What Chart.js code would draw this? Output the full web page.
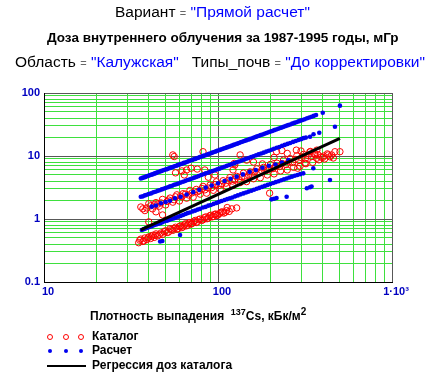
<!DOCTYPE html>
<html>
<head>
<meta charset="utf-8">
<script src="https://cdn.jsdelivr.net/npm/chart.js@4.4.1/dist/chart.umd.min.js"></script>
<style>
  body { margin: 0; background: #fff; }
  #wrap { position: relative; width: 437px; height: 382px; font-family: "Liberation Sans", Arial, sans-serif; }
  #wrap canvas { position: absolute; left: 0; top: 0; }
  .t { position: absolute; white-space: nowrap; color: #000; }
  .s { color: #0000ff; }
  .eq { color: #666; font-size: 11px; }
  .lg { position: absolute; font-size: 12px; line-height: 12px; font-weight: bold; white-space: nowrap; }
  .mk { position: absolute; border-radius: 50%; }
  .ring { width: 4px; height: 4px; border: 1px solid #f00; }
  .dot { width: 4px; height: 4px; background: #0000f0; }
</style>
</head>
<body>
<div id="wrap">
  <canvas id="chart" width="437" height="382"></canvas>

  <div class="t" style="left:115px;top:4px;font-size:15.5px;line-height:15.5px;">Вариант <span class="eq">=</span> <span class="s">"Прямой расчет"</span></div>
  <div class="t" style="left:47px;top:31px;font-size:13.5px;line-height:13.5px;font-weight:bold;">Доза внутреннего облучения за 1987-1995 годы, мГр</div>
  <div class="t" style="left:15px;top:54px;font-size:15.5px;line-height:15.5px;">Область <span class="eq">=</span> <span class="s">"Калужская"</span>&nbsp;&nbsp; Типы_почв <span class="eq">=</span> <span class="s">"До корректировки"</span></div>

  <div class="lg" style="left:90px;top:310px;">Плотность выпадения &nbsp;<sup style="font-size:9px;line-height:0;">137</sup>Cs, кБк/м<sup style="font-size:10px;line-height:0;">2</sup></div>

  <div class="mk ring" style="left:47px;top:334px;"></div>
  <div class="mk ring" style="left:63px;top:334px;"></div>
  <div class="mk ring" style="left:78px;top:334px;"></div>
  <div class="lg" style="left:92px;top:330px;">Каталог</div>

  <div class="mk dot" style="left:48px;top:349px;"></div>
  <div class="mk dot" style="left:64px;top:349px;"></div>
  <div class="mk dot" style="left:79px;top:349px;"></div>
  <div class="lg" style="left:92px;top:344px;">Расчет</div>

  <div style="position:absolute;left:47px;top:365px;width:39px;height:2px;background:#000;"></div>
  <div class="lg" style="left:92px;top:359px;">Регрессия доз каталога</div>
</div>

<script>
// Axis ticks (log grid, labels only on decades)
const xTicks = [10, 20, 30, 40, 50, 60, 70, 80, 90, 100, 200, 300, 400, 500, 600, 700, 800, 900, 1000];
const yTicks = [0.1, 0.2, 0.3, 0.4, 0.5, 0.6, 0.7, 0.8, 0.9, 1, 2, 3, 4, 5, 6, 7, 8, 9, 10, 20, 30, 40, 50, 60, 70, 80, 90, 100];
const xMajor = [10, 100, 1000];
const xMajorLabels = ['10', '100', '1·10³'];
const yMajor = [0.1, 1, 10, 100];
const yMajorLabels = ['0.1', '1', '10', '100'];

// Каталог (red open circles): deposition density, dose
const catX = [
  35, 36, 37, 38, 39, 40, 41, 42, 43, 44, 45, 47, 48, 50, 52, 53, 55, 57, 59, 61, 63, 65, 67, 69, 71, 74, 76, 79, 82, 85, 88, 91, 94, 97, 100, 104, 108, 112, 116, 120, 128, 113,
  35.5, 37.5, 39.5, 41.5, 43.5, 46, 49, 51, 54, 56, 58, 60, 62, 64, 66, 68, 70, 72.5, 75, 77.5, 80.5, 83.5, 86.5, 89.5, 92.5, 95.5, 98.5, 102, 106, 110,
  36, 40, 44, 48, 53, 58, 63, 69, 75, 82, 90, 98, 107, 117, 128, 140, 153, 167, 183, 200, 218, 238, 260, 284, 310, 340, 370,
  38, 42, 46, 50, 55, 60, 66, 72, 79, 86, 94, 103, 112, 122, 134, 146, 160, 175, 192, 210, 229, 250, 272, 296, 320, 350, 380, 410, 440,
  37, 41, 45, 51, 56, 62, 68, 76, 84, 92, 101, 111, 121, 131, 143, 157, 172, 189, 207, 226, 246, 268, 292, 318, 345, 375, 405, 450,
  39, 43, 47, 52, 57, 61, 65, 71, 78, 81, 88, 96, 105, 115, 125, 137, 150, 163, 178, 195, 214, 234, 255, 278, 302, 330, 360, 390, 425,
  55, 56, 82, 57, 62, 66, 70, 76, 84, 64, 96, 88, 134, 146, 124, 160, 233, 282, 337, 360, 400, 430, 460, 502, 470, 198, 300, 250, 210, 180, 40, 48, 44, 122, 125, 217, 287, 316, 369
];
const catY = [
  0.42, 0.48, 0.44, 0.50, 0.47, 0.52, 0.49, 0.55, 0.51, 0.58, 0.54, 0.60, 0.57, 0.65, 0.62, 0.70, 0.66, 0.74, 0.70, 0.78, 0.75, 0.84, 0.80, 0.88, 0.85, 0.95, 0.90, 1.0, 0.97, 1.08, 1.04, 1.15, 1.1, 1.2, 1.16, 1.28, 1.24, 1.36, 1.32, 1.45, 1.5, 1.52,
  0.46, 0.45, 0.5, 0.53, 0.55, 0.56, 0.63, 0.61, 0.68, 0.71, 0.69, 0.76, 0.73, 0.8, 0.78, 0.86, 0.83, 0.92, 0.88, 0.98, 0.95, 1.05, 1.01, 1.12, 1.08, 1.18, 1.14, 1.22, 1.3, 1.28,
  1.55, 1.75, 1.82, 2.05, 2.15, 2.42, 2.52, 2.85, 2.95, 3.3, 3.45, 3.9, 4.05, 4.55, 4.75, 5.35, 5.6, 6.25, 6.6, 7.35, 7.7, 8.6, 9.1, 10.1, 10.6, 11.8, 12.4,
  1.36, 1.45, 1.6, 1.67, 1.85, 1.93, 2.14, 2.22, 2.48, 2.57, 2.85, 2.96, 3.27, 3.4, 3.78, 3.92, 4.35, 4.52, 5.0, 5.2, 5.8, 6.0, 6.6, 6.9, 7.55, 7.9, 8.7, 9.0, 9.7,
  1.45, 1.62, 1.72, 1.9, 2.02, 2.25, 2.4, 2.7, 2.9, 3.15, 3.4, 3.7, 4.0, 4.25, 4.6, 4.95, 5.4, 5.85, 6.3, 6.8, 7.3, 7.9, 8.5, 9.1, 9.8, 10.5, 10.0, 10.4,
  1.5, 1.68, 1.8, 2.0, 2.25, 2.3, 2.48, 2.6, 2.8, 3.05, 3.1, 3.5, 3.6, 4.1, 4.3, 4.7, 5.0, 5.7, 5.9, 6.4, 6.9, 7.6, 8.1, 8.8, 9.4, 10.2, 11.0, 9.6, 10.8,
  10.4, 9.8, 11.7, 5.4, 5.8, 6.0, 6.4, 6.2, 6.0, 5.0, 5.0, 4.6, 10.4, 8.6, 7.6, 8.0, 12.2, 12.4, 11.6, 10.5, 9.5, 10.4, 9.3, 11.7, 11.7, 2.57, 12.0, 11.0, 9.5, 7.5, 0.9, 1.16, 1.3, 6.0, 7.2, 11.7, 6.4, 7.7, 9.2
];

// Расчет (blue dots)
const calcX = [
  36, 37.5, 39, 40.5, 42, 43.5, 45, 47, 49, 51, 53, 55, 57.5, 60, 62.5, 65, 68, 71, 74, 77, 80.5, 84, 88, 92, 96, 100, 105, 110, 115, 120, 126, 132, 138, 145, 152, 160, 168, 176, 185, 195, 205, 216, 228, 240, 253, 267, 282, 298, 315, 345, 366, 400,
  36.8, 38.2, 39.8, 41.2, 42.8, 44.2, 46, 48, 50, 52, 54, 56.2, 58.7, 61.2, 63.7, 66.5, 69.5, 72.5, 75.5, 78.7, 82.2, 86, 90, 94, 98, 102.5, 107.5, 112.5, 117.5, 123, 129, 135, 141.5, 148.5, 156, 164, 172, 180.5, 190, 200, 210.5, 222, 234, 246.5, 260, 274.5, 290, 306, 325, 335, 355,
  36, 38, 40, 42.5, 45, 47.5, 50, 53, 56, 59, 63, 67, 71, 75, 80, 85, 90, 96, 102, 109, 116, 124, 132, 141, 150, 160, 171, 183, 196, 210, 225, 242, 260, 280, 300, 320, 338, 354, 382,
  37, 39, 41.2, 43.7, 46.2, 48.7, 51.5, 54.5, 57.5, 61, 65, 69, 73, 77.5, 82.5, 87.5, 93, 99, 105.5, 112.5, 120, 128, 136.5, 145.5, 155, 165.5, 177, 189.5, 203, 217.5, 233.5, 251, 270, 290, 310,
  41.6, 44, 47, 50, 53, 56.6, 61, 66, 72, 78, 85, 92, 100, 109, 118, 128, 139, 152, 165, 180, 196, 214, 233, 254,
  36.5, 38.5, 40.5, 43, 45.5, 48, 51, 54, 57, 61, 65, 69, 74, 79, 85, 91, 98, 105, 113, 121, 130, 140, 150, 161, 173, 186, 200, 215, 231, 248, 266, 286, 309,
  37.5, 39.5, 41.7, 44.2, 46.7, 49.5, 52.5, 55.5, 59, 63, 67, 71.5, 76.5, 82, 88, 94.5, 101.5, 109, 117, 125.5, 135, 145, 155.5, 167, 179.5, 193, 207.5, 223, 239.5, 257, 276, 297,
  47.9, 60.5, 46.5, 203, 210, 217, 248, 324, 338, 345, 440, 353, 470, 502
];
const calcY = [
  4.4, 4.55, 4.75, 4.95, 5.1, 5.3, 5.5, 5.75, 6.0, 6.2, 6.45, 6.7, 7.0, 7.3, 7.6, 7.9, 8.3, 8.65, 9.0, 9.4, 9.8, 10.2, 10.7, 11.2, 11.7, 12.2, 12.8, 13.4, 14.0, 14.6, 15.4, 16.1, 16.8, 17.7, 18.5, 19.5, 20.5, 21.5, 22.6, 23.8, 25, 26.4, 27.8, 29.3, 30.9, 32.6, 34.4, 36.4, 38.4, 42, 44.8, 48.7,
  4.49, 4.66, 4.86, 5.03, 5.22, 5.39, 5.61, 5.86, 6.1, 6.34, 6.59, 6.86, 7.16, 7.47, 7.77, 8.11, 8.48, 8.85, 9.21, 9.6, 10.03, 10.49, 10.98, 11.47, 11.96, 12.5, 13.1, 13.7, 14.3, 15.0, 15.7, 16.5, 17.3, 18.1, 19.0, 20.0, 21.0, 22.0, 23.2, 24.4, 25.7, 27.1, 28.5, 30.1, 31.7, 33.5, 35.4, 37.3, 39.7, 40.9, 43.3,
  2.25, 2.37, 2.5, 2.65, 2.8, 2.95, 3.1, 3.3, 3.5, 3.65, 3.9, 4.15, 4.4, 4.65, 5.0, 5.3, 5.6, 5.95, 6.3, 6.75, 7.2, 7.7, 8.2, 8.75, 9.3, 9.9, 10.6, 11.3, 12.1, 13.0, 13.9, 15.0, 16.1, 17.3, 18.5, 19.6, 20.2, 22.1, 23.4,
  2.29, 2.42, 2.55, 2.71, 2.86, 3.02, 3.19, 3.38, 3.57, 3.78, 4.03, 4.28, 4.53, 4.8, 5.12, 5.43, 5.77, 6.14, 6.54, 6.98, 7.44, 7.94, 8.46, 9.02, 9.61, 10.26, 10.97, 11.75, 12.59, 13.49, 14.48, 15.56, 16.74, 17.98, 19.2,
  1.57, 1.64, 1.78, 1.86, 1.95, 2.13, 2.25, 2.45, 2.67, 2.9, 3.15, 3.4, 3.7, 4.0, 4.35, 4.7, 5.1, 5.6, 6.0, 6.5, 7.0, 7.3, 7.9, 8.6,
  0.67, 0.71, 0.75, 0.8, 0.84, 0.89, 0.94, 1.0, 1.05, 1.12, 1.2, 1.27, 1.36, 1.45, 1.56, 1.67, 1.8, 1.93, 2.07, 2.2, 2.37, 2.55, 2.72, 2.92, 3.12, 3.35, 3.6, 3.85, 4.12, 4.4, 4.7, 5.0, 5.3,
  0.69, 0.73, 0.77, 0.82, 0.86, 0.92, 0.97, 1.02, 1.09, 1.16, 1.24, 1.32, 1.41, 1.52, 1.63, 1.74, 1.87, 2.0, 2.14, 2.29, 2.46, 2.63, 2.81, 3.02, 3.24, 3.48, 3.72, 3.98, 4.26, 4.55, 4.85, 5.15,
  0.448, 0.557, 0.44, 2.05, 2.1, 2.15, 2.26, 3.07, 3.2, 3.28, 4.16, 6.38, 29.2, 63
];

// Регрессия доз каталога
const regX = [36, 502];
const regY = [0.67, 19];

const toPoints = (xs, ys) => xs.map((x, i) => ({ x: x, y: ys[i] }));

const isDecade = v => Math.abs(Math.log10(v) - Math.round(Math.log10(v))) < 1e-6;
const gridColor = ctx => (ctx.tick && isDecade(ctx.tick.value)) ? '#585858' : '#3ee03e';
const tickFont = { family: '"Liberation Sans", Arial, sans-serif', size: 11, weight: 'bold' };

new Chart(document.getElementById('chart'), {
  type: 'scatter',
  data: {
    datasets: [
      {
        label: 'Регрессия доз каталога',
        data: toPoints(regX, regY),
        showLine: true,
        borderColor: '#000',
        borderWidth: 3,
        pointRadius: 0,
        order: 0
      },
      {
        label: 'Расчет',
        data: toPoints(calcX, calcY),
        pointRadius: 2.3,
        pointBackgroundColor: '#0000f0',
        pointBorderWidth: 0,
        order: 1
      },
      {
        label: 'Каталог',
        data: toPoints(catX, catY),
        pointRadius: 3.2,
        pointBackgroundColor: 'rgba(0,0,0,0)',
        pointBorderColor: '#ff0000',
        pointBorderWidth: 1,
        order: 2
      }
    ]
  },
  options: {
    responsive: false,
    devicePixelRatio: 1,
    animation: false,
    layout: { padding: { left: 0, right: 45, top: 93, bottom: 0 } },
    plugins: { legend: { display: false }, tooltip: { enabled: false } },
    scales: {
      x: {
        type: 'logarithmic',
        min: 10,
        max: 1000,
        afterFit: s => { s.height = 100; },
        afterBuildTicks: s => { s.ticks = xTicks.map(v => ({ value: v })); },
        grid: { color: gridColor, drawTicks: false },
        border: { color: '#000', width: 1 },
        ticks: {
          autoSkip: false,
          maxRotation: 0,
          padding: 3,
          labelOffset: 4,
          color: '#0000c0',
          font: tickFont,
          callback: v => { const i = xMajor.indexOf(v); return i >= 0 ? xMajorLabels[i] : ''; }
        }
      },
      y: {
        type: 'logarithmic',
        min: 0.1,
        max: 100,
        afterFit: s => { s.width = 44; },
        afterBuildTicks: s => { s.ticks = yTicks.map(v => ({ value: v })); },
        grid: { color: gridColor, drawTicks: false },
        border: { color: '#000', width: 1 },
        ticks: {
          autoSkip: false,
          padding: 4,
          color: '#0000c0',
          font: tickFont,
          callback: v => { const i = yMajor.indexOf(v); return i >= 0 ? yMajorLabels[i] : ''; }
        }
      }
    }
  }
});
</script>
</body>
</html>
